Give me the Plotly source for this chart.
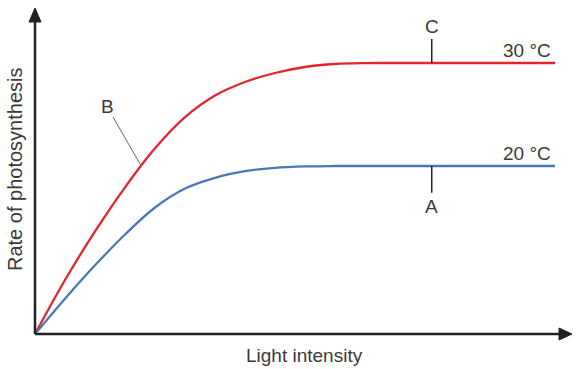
import plotly.graph_objects as go

# ---- data (conceptual curves) ----
light = [0.0, 0.577, 1.154, 1.731, 2.308, 2.885, 3.462, 4.038, 4.615, 5.192, 5.769, 6.346, 6.923, 8.0, 10.0]
rate_30c = [0.0, 1.656, 3.147, 4.500, 5.696, 6.653, 7.316, 7.730, 8.006, 8.190, 8.282, 8.310, 8.313, 8.313, 8.313]
rate_20c = [0.0, 1.083, 2.107, 3.052, 3.880, 4.463, 4.791, 4.994, 5.098, 5.141, 5.153, 5.153, 5.153, 5.153, 5.153]

series_labels = ["30 °C", "20 °C"]
point_labels = ["A", "B", "C"]
x_title = "Light intensity"
y_title = "Rate of photosynthesis"

W, H = 579, 369
ML, MR, MT, MB = 35, 7, 8, 35
PW, PH = W - ML - MR, H - MT - MB
XMAX = PW / 52.0
YMAX = 10.0

RED = "#e3262d"
BLUE = "#4a78b6"
AXIS = "#222222"
TXT = "#3a3a3a"
FONT = "Liberation Sans, Arial, sans-serif"

fig = go.Figure()
fig.add_trace(go.Scatter(x=light, y=rate_30c, mode="lines",
                         line=dict(color=RED, width=2.3, shape="spline", smoothing=1.0), hoverinfo="skip"))
fig.add_trace(go.Scatter(x=light, y=rate_20c, mode="lines",
                         line=dict(color=BLUE, width=2.3, shape="spline", smoothing=1.0), hoverinfo="skip"))

def px_x(p):
    return (p - ML) / PW

def px_y(p):
    return (MT + PH - p) / PH

shapes = []
# y axis with arrow
shapes.append(dict(type="line", xref="paper", yref="paper", x0=0, y0=0, x1=0, y1=px_y(21),
                   line=dict(color=AXIS, width=2.5)))
shapes.append(dict(type="path", xref="paper", yref="paper",
                   path=f"M {px_x(29)} {px_y(22)} L {px_x(35)} {px_y(8)} L {px_x(41)} {px_y(22)} Z",
                   fillcolor=AXIS, line=dict(color=AXIS, width=1)))
# x axis with arrow
shapes.append(dict(type="line", xref="paper", yref="paper", x0=0, y0=0, x1=px_x(560), y1=0,
                   line=dict(color=AXIS, width=2.5)))
shapes.append(dict(type="path", xref="paper", yref="paper",
                   path=f"M {px_x(559)} {px_y(328)} L {px_x(572)} {px_y(334)} L {px_x(559)} {px_y(340)} Z",
                   fillcolor=AXIS, line=dict(color=AXIS, width=1)))

xC = 7.63
# C tick (above red plateau)
shapes.append(dict(type="line", xref="x", yref="y", x0=xC, x1=xC, y0=rate_30c[-1], y1=9.05,
                   line=dict(color=AXIS, width=1.5)))
# A tick (below blue plateau)
shapes.append(dict(type="line", xref="x", yref="y", x0=xC, x1=xC, y0=rate_20c[-1], y1=4.33,
                   line=dict(color=AXIS, width=1.5)))
# B leader
shapes.append(dict(type="line", xref="x", yref="y", x0=1.50, y0=6.656, x1=2.04, y1=5.16,
                   line=dict(color="#666666", width=1)))

lab = dict(family=FONT, size=19, color=TXT)
annotations = [
    dict(x=xC, y=9.42, xref="x", yref="y", text=point_labels[2], showarrow=False,
         xanchor="center", yanchor="middle", font=lab),
    dict(x=xC, y=3.90, xref="x", yref="y", text=point_labels[0], showarrow=False,
         xanchor="center", yanchor="middle", font=lab),
    dict(x=1.385, y=6.99, xref="x", yref="y", text=point_labels[1], showarrow=False,
         xanchor="center", yanchor="middle", font=lab),
    dict(x=9.97, y=8.71, xref="x", yref="y", text=series_labels[0], showarrow=False,
         xanchor="right", yanchor="middle", font=lab),
    dict(x=9.97, y=5.53, xref="x", yref="y", text=series_labels[1], showarrow=False,
         xanchor="right", yanchor="middle", font=lab),
    dict(x=px_x(304), y=px_y(355), xref="paper", yref="paper", text=x_title, showarrow=False,
         xanchor="center", yanchor="middle", font=lab),
    dict(x=px_x(15), y=px_y(170), xref="paper", yref="paper", text=y_title, textangle=-90,
         showarrow=False, xanchor="center", yanchor="middle", font=dict(family=FONT, size=20, color=TXT)),
]

fig.update_layout(
    width=W, height=H,
    margin=dict(l=ML, r=MR, t=MT, b=MB),
    paper_bgcolor="white", plot_bgcolor="white",
    showlegend=False,
    xaxis=dict(range=[0, XMAX], visible=False, fixedrange=True),
    yaxis=dict(range=[0, YMAX], visible=False, fixedrange=True),
    shapes=shapes,
    annotations=annotations,
)

fig.write_html("out.html", config=dict(displayModeBar=False),
               post_script="document.body.style.margin='0';document.body.style.padding='0';")
